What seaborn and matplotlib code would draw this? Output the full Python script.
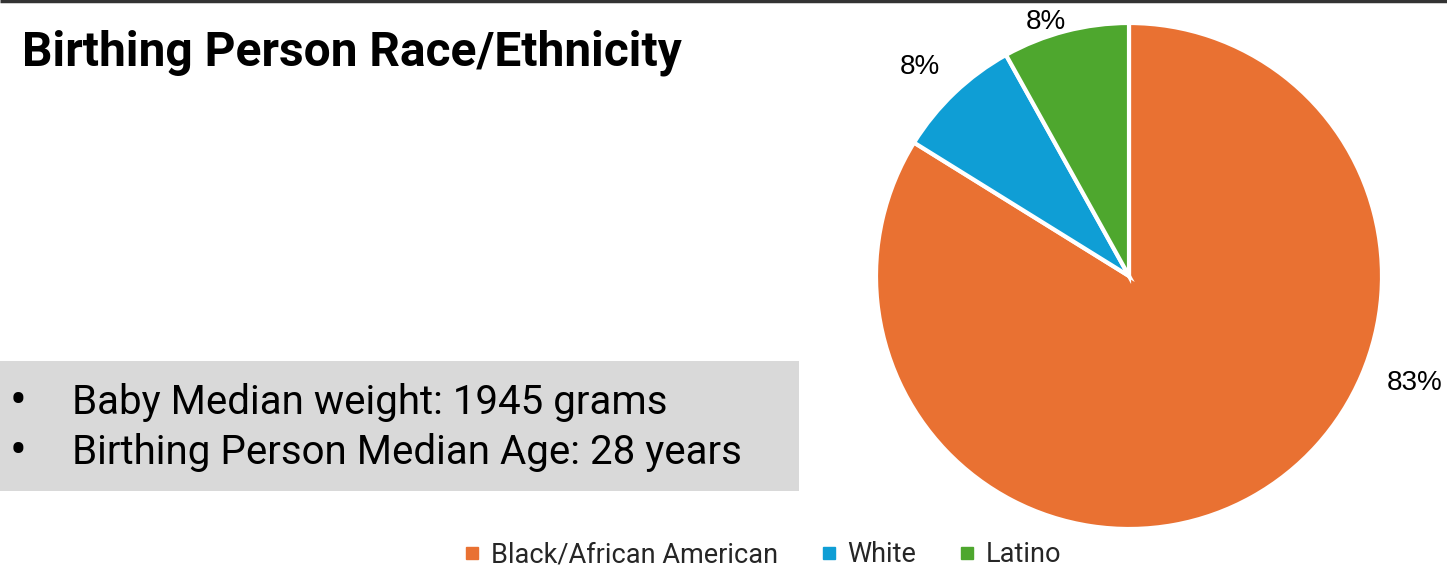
import matplotlib
matplotlib.use("Agg")
import matplotlib.pyplot as plt
import seaborn as sns
from matplotlib.patches import Rectangle
from matplotlib.lines import Line2D

# Data
categories = ["Black/African American", "White", "Latino"]
shares = [83, 8, 8]
colors = ["#E97132", "#0F9ED5", "#4EA72E"]
title = "Birthing Person Race/Ethnicity"
facts = ["Baby Median weight: 1945 grams", "Birthing Person Median Age: 28 years"]

sns.set_theme(style="white")
plt.rcParams["font.family"] = ["Roboto", "DejaVu Sans"]

W, H = 1447, 569
fig = plt.figure(figsize=(W / 100, H / 100), dpi=100)
ax = fig.add_axes([0, 0, 1, 1])

# Pie: starts at 12 o'clock and runs clockwise
cx, cy, r = 1129, H - 276, 253
wedges, _, pct_texts = ax.pie(
    shares, colors=colors, startangle=90, counterclock=False,
    center=(cx, cy), radius=r, frame=True,
    wedgeprops=dict(edgecolor="white", linewidth=3, joinstyle="miter"),
    autopct=lambda p: "", pctdistance=1.2,
)
ax.set_xlim(0, W)
ax.set_ylim(0, H)
ax.set_aspect("equal")
ax.axis("off")

# Data labels outside the slices
label_pos = [(1415, H - 383), (920, H - 67), (1046, H - 22)]
for t, v, pos in zip(pct_texts, shares, label_pos):
    t.set_text(f"{v}%")
    t.set_position(pos)
    t.set_ha("center")
    t.set_va("center")
    t.set_fontsize(20)
    t.set_family(["Liberation Sans", "DejaVu Sans"])
    t.set_color("black")

# Title
ax.text(22, H - 53, title, fontsize=34.5, fontweight="bold", ha="left", va="center",
        color="black")

# Fact box
ax.add_patch(Rectangle((0, H - 491), 799, 130, facecolor="#D9D9D9", edgecolor="none"))
for i, line in enumerate(facts):
    y = H - 402 - 50 * i
    ax.text(18, y, "•", fontsize=36, ha="center", va="center", color="black")
    ax.text(72, y, line, fontsize=29, ha="left", va="center", color="black")

# Top rule
ax.plot([0, W], [H - 1, H - 1], color="#333333", linewidth=2.5, solid_capstyle="butt")

# Legend
handles = [Line2D([], [], marker="s", linestyle="none", markersize=8,
                  markerfacecolor=c, markeredgecolor=c) for c in colors]
fig.legend(handles, categories, loc="center", bbox_to_anchor=(762 / W, 1 - 555 / H),
           ncol=3, frameon=False, fontsize=19.5, handlelength=0.7, handletextpad=0.35,
           columnspacing=1.5, borderaxespad=0)

fig.savefig("out.png", dpi=100)
